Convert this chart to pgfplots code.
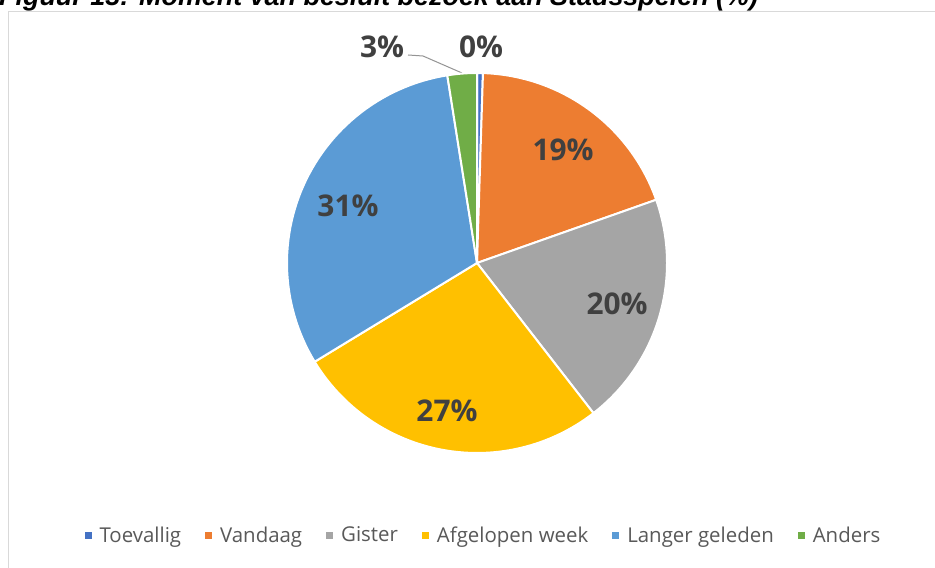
\documentclass[border=0pt]{standalone}
\usepackage{pgfplots}
\pgfplotsset{compat=1.18}
\usepackage{fontspec}
\setmainfont{Open Sans}
\newfontfamily\titlefont{Liberation Sans}
\definecolor{cToev}{HTML}{4472C4}
\definecolor{cVand}{HTML}{ED7D31}
\definecolor{cGist}{HTML}{A5A5A5}
\definecolor{cAfg}{HTML}{FFC000}
\definecolor{cLang}{HTML}{5B9BD5}
\definecolor{cAnd}{HTML}{70AD47}
\definecolor{labgray}{HTML}{404040}
\definecolor{leggray}{HTML}{595959}
\definecolor{framegray}{HTML}{D9D9D9}
% shares (%)
\def\vA{0.5}\def\vB{19.1}\def\vC{19.9}\def\vD{26.8}\def\vE{31.2}\def\vF{2.5}
\pgfmathsetmacro\aA{90}
\pgfmathsetmacro\aB{\aA-3.6*\vA}
\pgfmathsetmacro\aC{\aB-3.6*\vB}
\pgfmathsetmacro\aD{\aC-3.6*\vC}
\pgfmathsetmacro\aE{\aD-3.6*\vD}
\pgfmathsetmacro\aF{\aE-3.6*\vE}
\pgfmathsetmacro\aG{\aF-3.6*\vF}
\begin{document}
\begin{tikzpicture}[x=1bp,y=1bp]
\useasboundingbox (0,0) rectangle (935,568);
\clip (0,0) rectangle (935,568);
\fill[white] (0,0) rectangle (935,568);
\draw[framegray, line width=1.5bp] (8.5,568-11.5) rectangle (960,-30);
\node[anchor=base west, inner sep=0pt, font=\titlefont\bfseries\itshape\fontsize{27}{30}\selectfont] at (-1,568-6) {Figuur 13: Moment van besluit bezoek aan Stadsspelen (\%)};
\draw[cGist!90!black, line width=1bp] (408,568-55) -- (423,568-56) -- (462,568-73);
\begin{axis}[
  at={(477bp,305bp)}, anchor=center,
  scale only axis, width=380bp, height=380bp,
  xmin=-1, xmax=1, ymin=-1, ymax=1,
  hide axis, clip=false,
  legend columns=6,
  legend image code/.code={\fill[#1, draw=none] (0bp,-3.5bp) rectangle (7bp,3.5bp);},
  legend style={at={(0.517,-0.216)}, anchor=center, draw=none, fill=none,
    font=\fontsize{20.5}{24}\selectfont, text=leggray,
    /tikz/every odd column/.append style={column sep=6bp},
    /tikz/every even column/.append style={column sep=22bp}},
  every axis plot/.append style={draw=white, line width=2bp, samples=60, variable=\t},
]
\addplot[fill=cToev, domain=\aB:\aA, samples=5] ({cos(t)},{sin(t)}) -- (axis cs:0,0) -- cycle;
\addlegendentry{Toevallig}
\addplot[fill=cVand, domain=\aC:\aB] ({cos(t)},{sin(t)}) -- (axis cs:0,0) -- cycle;
\addlegendentry{Vandaag}
\addplot[fill=cGist, domain=\aD:\aC] ({cos(t)},{sin(t)}) -- (axis cs:0,0) -- cycle;
\addlegendentry{Gister}
\addplot[fill=cAfg, domain=\aE:\aD] ({cos(t)},{sin(t)}) -- (axis cs:0,0) -- cycle;
\addlegendentry{Afgelopen week}
\addplot[fill=cLang, domain=\aF:\aE] ({cos(t)},{sin(t)}) -- (axis cs:0,0) -- cycle;
\addlegendentry{Langer geleden}
\addplot[fill=cAnd, domain=\aG:\aF, samples=8] ({cos(t)},{sin(t)}) -- (axis cs:0,0) -- cycle;
\addlegendentry{Anders}
\begin{scope}[every node/.style={font=\bfseries\fontsize{30}{34}\selectfont, text=labgray}]
\node at (axis cs:0.453,0.595) {19\%};
\node at (axis cs:0.737,-0.216) {20\%};
\node at (axis cs:-0.158,-0.779) {27\%};
\node at (axis cs:-0.679,0.30) {31\%};
\node at (axis cs:-0.50,1.137) {3\%};
\node at (axis cs:0.021,1.137) {0\%};
\end{scope}
\end{axis}
\end{tikzpicture}
\end{document}
